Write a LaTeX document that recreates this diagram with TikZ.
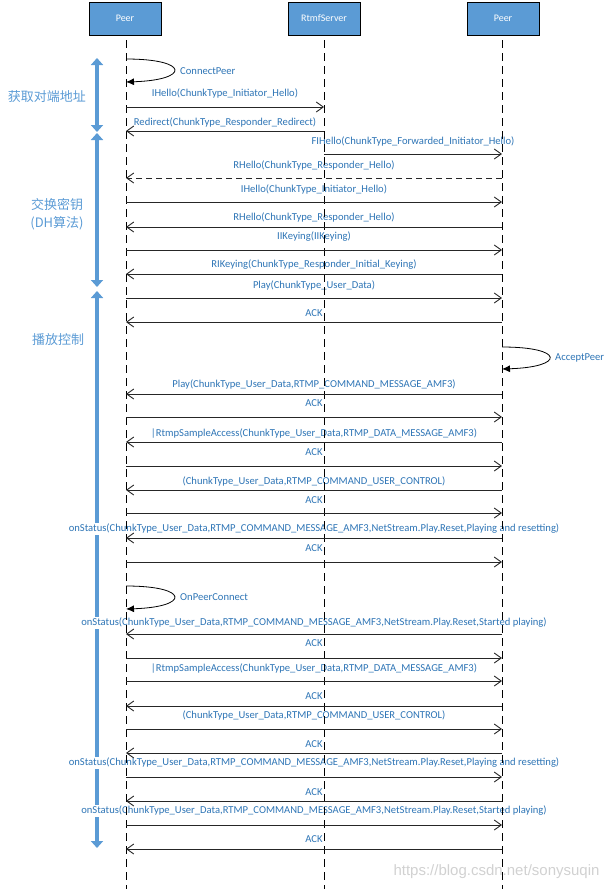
\documentclass[tikz,border=0pt]{standalone}
\usepackage{fontspec}
\setmainfont{Carlito}
\newfontfamily\cjk{Noto Sans CJK SC}
\newfontfamily\wmfont{Liberation Sans}
\usetikzlibrary{arrows.meta}
\definecolor{boxblue}{RGB}{91,155,213}
\definecolor{textblue}{RGB}{46,117,182}

\begin{document}
\begin{tikzpicture}[x=1pt,y=-1pt,
	life_box/.style={rectangle,draw=black,fill=boxblue,minimum width=72pt,minimum height=33pt,text=white,font=\fontsize{10}{12}\selectfont},
	life_line/.style={dash pattern=on 8pt off 5pt,line width=0.8pt},
	msg_line/.style={line width=0.9pt,black!85,-{Straight Barb[length=7pt,width=10pt]}},
	msg_text/.style={text=textblue,font=\fontsize{10.6}{12}\selectfont,fill=white,inner sep=1pt},
	self_loop/.style={line width=0.8pt,-{Latex[length=8pt,width=7pt]}},
	phase_arrow/.style={boxblue,line width=3.5pt,{Triangle[width=12pt,length=7pt]}-{Triangle[width=12pt,length=7pt]}},
	phase_text/.style={text=boxblue,font=\cjk\fontsize{13}{18}\selectfont,align=center}]
	
	\useasboundingbox (0,0) rectangle (610,889);
	
	\node[life_box] (peerA) at (125,18.5) {Peer};
	\node[life_box] (server) at (324,18.5) {RtmfServer};
	\node[life_box] (peerB) at (503,18.5) {Peer};
	
	% phases
	\coordinate (ph1a) at (97,58);
	\coordinate (ph1b) at (97,132);
	\coordinate (ph2a) at (97,133);
	\coordinate (ph2b) at (97,287);
	\coordinate (ph3a) at (97,291);
	\coordinate (ph3b) at (97,848);
	\draw[phase_arrow] (ph1a) -- (ph1b);
	\draw[phase_arrow] (ph2a) -- (ph2b);
	\draw[phase_arrow] (ph3a) -- (ph3b);
	
	\node[phase_text] (phase1) at (47,97) {获取对端地址};
	\node[phase_text] (phase2) at (57,214) {交换密钥\\(DH算法)};
	\node[phase_text] (phase3) at (58,340) {播放控制};
	
	% labels
	\node[msg_text] (t1) at (225,93) {IHello(ChunkType\_Initiator\_Hello)};
	\node[msg_text] (t2) at (225,122) {Redirect(ChunkType\_Responder\_Redirect)};
	\node[msg_text] (t3) at (413,141) {FIHello(ChunkType\_Forwarded\_Initiator\_Hello)};
	\node[msg_text] (t4) at (314,165) {RHello(ChunkType\_Responder\_Hello)};
	\node[msg_text] (t5) at (314,189) {IHello(ChunkType\_Initiator\_Hello)};
	\node[msg_text] (t6) at (314,217) {RHello(ChunkType\_Responder\_Hello)};
	\node[msg_text] (t7) at (314,237) {IIKeying(IIKeying)};
	\node[msg_text] (t8) at (314,265) {RIKeying(ChunkType\_Responder\_Initial\_Keying)};
	\node[msg_text] (t9) at (314,285) {Play(ChunkType\_User\_Data)};
	\node[msg_text] (t10) at (314,313) {ACK};
	\node[msg_text] (t11) at (314,384) {Play(ChunkType\_User\_Data,RTMP\_COMMAND\_MESSAGE\_AMF3)};
	\node[msg_text] (t12) at (314,403) {ACK};
	\node[msg_text] (t13) at (314,433) {|RtmpSampleAccess(ChunkType\_User\_Data,RTMP\_DATA\_MESSAGE\_AMF3)};
	\node[msg_text] (t14) at (314,452) {ACK};
	\node[msg_text] (t15) at (314,481) {(ChunkType\_User\_Data,RTMP\_COMMAND\_USER\_CONTROL)};
	\node[msg_text] (t16) at (314,500) {ACK};
	\node[msg_text] (t17) at (314,529) {onStatus(ChunkType\_User\_Data,RTMP\_COMMAND\_MESSAGE\_AMF3,NetStream.Play.Reset,Playing and resetting)};
	\node[msg_text] (t18) at (314,548) {ACK};
	\node[msg_text] (t19) at (314,623) {onStatus(ChunkType\_User\_Data,RTMP\_COMMAND\_MESSAGE\_AMF3,NetStream.Play.Reset,Started playing)};
	\node[msg_text] (t20) at (314,643) {ACK};
	\node[msg_text] (t21) at (314,668) {|RtmpSampleAccess(ChunkType\_User\_Data,RTMP\_DATA\_MESSAGE\_AMF3)};
	\node[msg_text] (t22) at (314,696) {ACK};
	\node[msg_text] (t23) at (314,715) {(ChunkType\_User\_Data,RTMP\_COMMAND\_USER\_CONTROL)};
	\node[msg_text] (t24) at (314,744) {ACK};
	\node[msg_text] (t25) at (314,763) {onStatus(ChunkType\_User\_Data,RTMP\_COMMAND\_MESSAGE\_AMF3,NetStream.Play.Reset,Playing and resetting)};
	\node[msg_text] (t26) at (314,792) {ACK};
	\node[msg_text] (t27) at (314,811) {onStatus(ChunkType\_User\_Data,RTMP\_COMMAND\_MESSAGE\_AMF3,NetStream.Play.Reset,Started playing)};
	\node[msg_text] (t28) at (314,839) {ACK};
	
	% lifelines
	\coordinate (peerA_top) at (126,40);
	\coordinate (peerA_end) at (126,889);
	\coordinate (server_top) at (324,40);
	\coordinate (server_end) at (324,889);
	\coordinate (peerB_top) at (502,40);
	\coordinate (peerB_end) at (502,889);
	\draw[life_line] (peerA_top) -- (peerA_end);
	\draw[life_line] (server_top) -- (server_end);
	\draw[life_line] (peerB_top) -- (peerB_end);
	
	% self calls
	\coordinate (cp1) at (126,59);
	\coordinate (cp2) at (126,82);
	\draw[self_loop] (cp1) .. controls (190,59) and (190,80) .. (cp2);
	\node[msg_text,anchor=west] (cpt) at (179,71) {ConnectPeer};
	
	\coordinate (ap1) at (502,347);
	\coordinate (ap2) at (502,369);
	\draw[self_loop] (ap1) .. controls (565,347) and (565,367) .. (ap2);
	\node[msg_text,anchor=west] (apt) at (554,358) {AcceptPeer};
	
	\coordinate (op1) at (126,586);
	\coordinate (op2) at (126,609);
	\draw[self_loop] (op1) .. controls (190,586) and (190,607) .. (op2);
	\node[msg_text,anchor=west] (opt) at (179,597) {OnPeerConnect};
	
	% messages
	\coordinate (m1a) at (126,107);
	\coordinate (m1b) at (324,107);
	\draw[msg_line] (m1a) -- (m1b);
	\coordinate (m2a) at (324,131);
	\coordinate (m2b) at (126,131);
	\draw[msg_line] (m2a) -- (m2b);
	\coordinate (m3a) at (324,154);
	\coordinate (m3b) at (502,154);
	\draw[msg_line] (m3a) -- (m3b);
	\coordinate (m4a) at (502,178);
	\coordinate (m4b) at (126,178);
	\draw[msg_line,dash pattern=on 6pt off 4pt] (m4a) -- (m4b);
	\coordinate (m5a) at (126,202);
	\coordinate (m5b) at (502,202);
	\draw[msg_line] (m5a) -- (m5b);
	\coordinate (m6a) at (502,227);
	\coordinate (m6b) at (126,227);
	\draw[msg_line] (m6a) -- (m6b);
	\coordinate (m7a) at (126,250);
	\coordinate (m7b) at (502,250);
	\draw[msg_line] (m7a) -- (m7b);
	\coordinate (m8a) at (502,274);
	\coordinate (m8b) at (126,274);
	\draw[msg_line] (m8a) -- (m8b);
	\coordinate (m9a) at (126,298);
	\coordinate (m9b) at (502,298);
	\draw[msg_line] (m9a) -- (m9b);
	\coordinate (m10a) at (502,322);
	\coordinate (m10b) at (126,322);
	\draw[msg_line] (m10a) -- (m10b);
	\coordinate (m11a) at (502,394);
	\coordinate (m11b) at (126,394);
	\draw[msg_line] (m11a) -- (m11b);
	\coordinate (m12a) at (126,417);
	\coordinate (m12b) at (502,417);
	\draw[msg_line] (m12a) -- (m12b);
	\coordinate (m13a) at (502,442);
	\coordinate (m13b) at (126,442);
	\draw[msg_line] (m13a) -- (m13b);
	\coordinate (m14a) at (126,466);
	\coordinate (m14b) at (502,466);
	\draw[msg_line] (m14a) -- (m14b);
	\coordinate (m15a) at (502,490);
	\coordinate (m15b) at (126,490);
	\draw[msg_line] (m15a) -- (m15b);
	\coordinate (m16a) at (126,513);
	\coordinate (m16b) at (502,513);
	\draw[msg_line] (m16a) -- (m16b);
	\coordinate (m17a) at (502,538);
	\coordinate (m17b) at (126,538);
	\draw[msg_line] (m17a) -- (m17b);
	\coordinate (m18a) at (126,562);
	\coordinate (m18b) at (502,562);
	\draw[msg_line] (m18a) -- (m18b);
	\coordinate (m19a) at (502,634);
	\coordinate (m19b) at (126,634);
	\draw[msg_line] (m19a) -- (m19b);
	\coordinate (m20a) at (126,658);
	\coordinate (m20b) at (502,658);
	\draw[msg_line] (m20a) -- (m20b);
	\coordinate (m21a) at (126,681);
	\coordinate (m21b) at (502,681);
	\draw[msg_line] (m21a) -- (m21b);
	\coordinate (m22a) at (502,706);
	\coordinate (m22b) at (126,706);
	\draw[msg_line] (m22a) -- (m22b);
	\coordinate (m23a) at (126,729);
	\coordinate (m23b) at (502,729);
	\draw[msg_line] (m23a) -- (m23b);
	\coordinate (m24a) at (502,753);
	\coordinate (m24b) at (126,753);
	\draw[msg_line] (m24a) -- (m24b);
	\coordinate (m25a) at (126,777);
	\coordinate (m25b) at (502,777);
	\draw[msg_line] (m25a) -- (m25b);
	\coordinate (m26a) at (502,801);
	\coordinate (m26b) at (126,801);
	\draw[msg_line] (m26a) -- (m26b);
	\coordinate (m27a) at (126,825);
	\coordinate (m27b) at (502,825);
	\draw[msg_line] (m27a) -- (m27b);
	\coordinate (m28a) at (502,849);
	\coordinate (m28b) at (126,849);
	\draw[msg_line] (m28a) -- (m28b);
	
	\node[text=black!18,font=\wmfont\fontsize{15}{17}\selectfont,anchor=east] (wm) at (603,872) {https://blog.csdn.net/sonysuqin};
\end{tikzpicture}
\end{document}
